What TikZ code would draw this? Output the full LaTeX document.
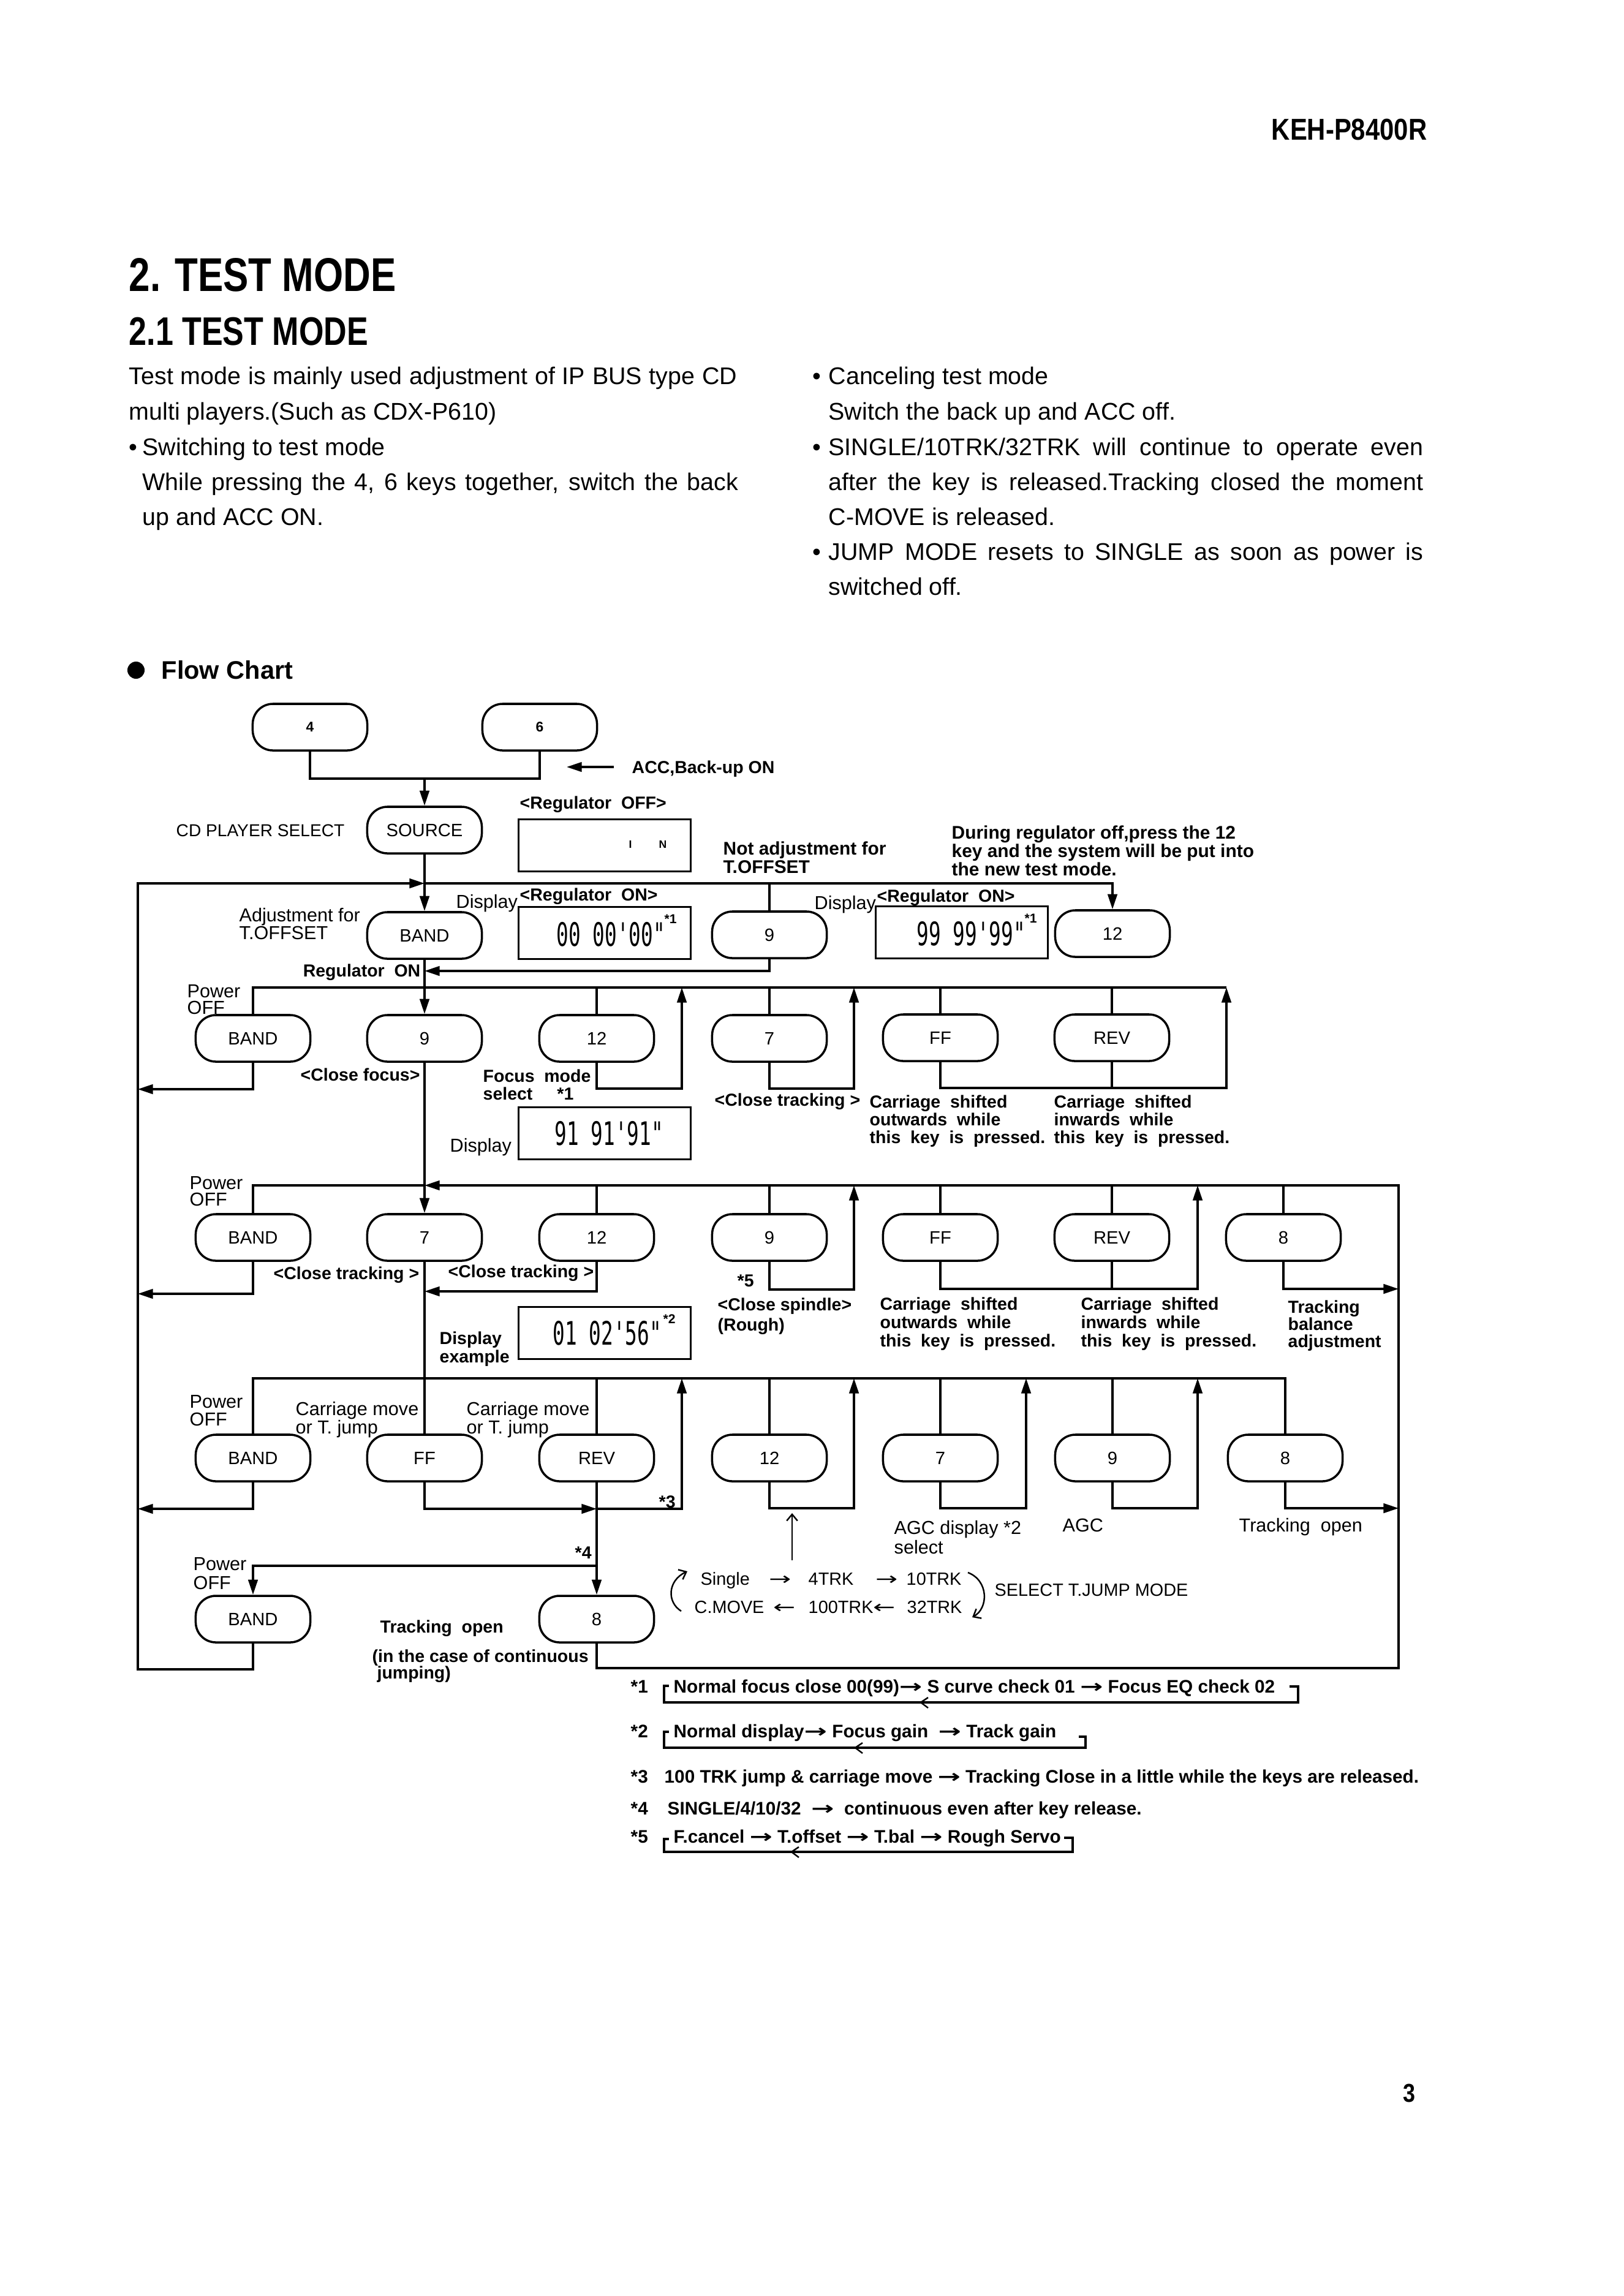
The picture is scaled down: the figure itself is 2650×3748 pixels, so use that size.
\documentclass[tikz,border=0pt]{standalone}
\usepackage{fontspec}
\setmainfont{Liberation Sans}
\newfontfamily\condf[FakeStretch=0.8]{Liberation Sans}
\newfontfamily\kehf[FakeStretch=0.85]{Liberation Sans}
\newfontfamily\lcdf[FakeStretch=0.62]{DejaVu Sans Mono}
\newfontfamily\arrf{DejaVu Sans}
\usetikzlibrary{arrows.meta}
\newcommand{\ra}{{\arrf\scalebox{1.5}[1]{→}}}
\newcommand{\la}{{\arrf\scalebox{1.5}[1]{←}}}
\begin{document}
\begin{tikzpicture}[x=0.01cm,y=-0.01cm,
  ln/.style={line width=0.95pt},
  arr/.style={line width=0.95pt,-{Triangle[length=7pt,width=4.4pt]}},
  thinarr/.style={line width=0.7pt,-{Straight Barb[length=3pt,width=5pt]}},
  btn/.style={draw,line width=1pt,rounded corners=3.3mm,minimum width=1.87cm,minimum height=0.76cm,inner sep=0pt,font=\fontsize{8.3}{9}\selectfont},
  disp/.style={draw,line width=1pt,minimum width=2.81cm,minimum height=0.85cm,inner sep=0pt},
  lab/.style={inner sep=0pt,anchor=base west,font=\fontsize{8.7}{9}\selectfont},
  jlab/.style={inner sep=0pt,anchor=base west,font=\fontsize{8.2}{9}\selectfont},
  blab/.style={inner sep=0pt,anchor=base west,font=\bfseries\fontsize{8.1}{9}\selectfont},
  mlab/.style={inner sep=0pt,anchor=north west,align=left},
  body/.style={inner sep=0pt,anchor=base west,font=\fontsize{11.2}{13}\selectfont},
  fn/.style={inner sep=0pt,anchor=base west,font=\bfseries\fontsize{8.45}{9}\selectfont},
  lcd/.style={inner sep=0pt,anchor=west,font=\lcdf\fontsize{15}{16}\selectfont},
  sup/.style={inner sep=0pt,anchor=west,font=\bfseries\fontsize{6}{7}\selectfont}
]
\useasboundingbox (0,0) rectangle (2650,3748);
\fill[white] (0,0) rectangle (2650,3748);

% ---------- header ----------
\node[inner sep=0pt,anchor=east,font=\kehf\bfseries\fontsize{14}{16}\selectfont] (model) at (2330,212) {KEH-P8400R};
\node[inner sep=0pt,anchor=base west,font=\condf\bfseries\fontsize{22}{24}\selectfont] (h1) at (210,475) {2. TEST MODE};
\node[inner sep=0pt,anchor=base west,font=\condf\bfseries\fontsize{18.5}{20}\selectfont] (h2) at (210,563) {2.1 TEST MODE};

\node[body] (t1) at (210,627) {\makebox[9.92cm][s]{Test mode is mainly used adjustment of IP BUS type CD}};
\node[body] (t2) at (210,685) {multi players.(Such as CDX-P610)};
\node[body] (t3b) at (210,743) {•};
\node[body] (t3) at (232,743) {Switching to test mode};
\node[body] (t4) at (232,800) {\makebox[9.72cm][s]{While pressing the 4, 6 keys together, switch the back}};
\node[body] (t5) at (232,857) {up and ACC ON.};

\node[body] (u1b) at (1326,627) {•};
\node[body] (u1) at (1352,627) {Canceling test mode};
\node[body] (u2) at (1352,685) {Switch the back up and ACC off.};
\node[body] (u3b) at (1326,743) {•};
\node[body] (u3) at (1352,743) {\makebox[9.7cm][s]{SINGLE/10TRK/32TRK will continue to operate even}};
\node[body] (u4) at (1352,800) {\makebox[9.7cm][s]{after the key is released.Tracking closed the moment}};
\node[body] (u5) at (1352,857) {C-MOVE is released.};
\node[body] (u6b) at (1326,914) {•};
\node[body] (u6) at (1352,914) {\makebox[9.7cm][s]{JUMP MODE resets to SINGLE as soon as power is}};
\node[body] (u7) at (1352,971) {switched off.};

\fill (222,1094) circle[radius=1.4mm];
\node[inner sep=0pt,anchor=west,font=\bfseries\fontsize{11.8}{13}\selectfont] (fc) at (263,1094) {Flow Chart};

% ---------- buttons ----------
\node[btn,font=\bfseries\fontsize{6.5}{7}\selectfont] (b4) at (506,1187) {4};
\node[btn,font=\bfseries\fontsize{6.5}{7}\selectfont] (b6) at (881,1187) {6};
\node[btn] (src) at (693,1355) {SOURCE};
\node[btn] (band1) at (693,1527) {BAND};
\node[btn] (nine1) at (1256,1526) {9};
\node[btn] (twelve1) at (1816,1524) {12};

\node[btn] (band2) at (413,1695) {BAND};
\node[btn] (nine2) at (693,1695) {9};
\node[btn] (twelve2) at (974,1695) {12};
\node[btn] (seven2) at (1256,1695) {7};
\node[btn] (ff2) at (1535,1694) {FF};
\node[btn] (rev2) at (1815,1694) {REV};

\node[btn] (band3) at (413,2020) {BAND};
\node[btn] (seven3) at (693,2020) {7};
\node[btn] (twelve3) at (974,2020) {12};
\node[btn] (nine3) at (1256,2020) {9};
\node[btn] (ff3) at (1535,2020) {FF};
\node[btn] (rev3) at (1815,2020) {REV};
\node[btn] (eight3) at (2095,2020) {8};

\node[btn] (band4) at (413,2380) {BAND};
\node[btn] (ff4) at (693,2380) {FF};
\node[btn] (rev4) at (974,2380) {REV};
\node[btn] (twelve4) at (1256,2380) {12};
\node[btn] (seven4) at (1535,2380) {7};
\node[btn] (nine4) at (1816,2380) {9};
\node[btn] (eight4) at (2098,2380) {8};

\node[btn] (band5) at (413,2643) {BAND};
\node[btn] (eight5) at (974,2643) {8};

% ---------- displays ----------
\node[disp] (disp0) at (987,1380) {};
\node[inner sep=0pt,font=\bfseries\fontsize{5}{6}\selectfont] (d0a) at (1029,1378) {I};
\node[inner sep=0pt,font=\bfseries\fontsize{5}{6}\selectfont] (d0b) at (1082,1378) {N};
\node[disp] (disp1) at (987,1523) {};
\node[lcd] (d1t) at (908,1525) {00 00'00"};
\node[sup] (d1s) at (1084,1500) {*1};
\node[disp] (disp2) at (1570,1522) {};
\node[lcd] (d2t) at (1496,1524) {99 99'99"};
\node[sup] (d2s) at (1672,1499) {*1};
\node[disp] (disp3) at (987,1850) {};
\node[lcd] (d3t) at (905,1850) {91 91'91"};
\node[disp] (disp4) at (987,2176) {};
\node[lcd] (d4t) at (902,2176) {01 02'56"};
\node[sup] (d4s) at (1082,2153) {*2};

% ---------- coordinates ----------
\coordinate (j0) at (693,1271);
\coordinate (mainJ) at (693,1442);
\coordinate (leftT) at (225,1442);
\coordinate (leftB) at (225,2725);
\coordinate (regJ) at (693,1585);
\coordinate (accA) at (1002,1252);
\coordinate (accB) at (925,1252);

% ---------- connectors top ----------
\draw[ln] (b4.south) |- (j0) -| (b6.south);
\draw[arr] (j0) -- (src.north);
\draw[arr] (accA) -- (accB);
\draw[arr] (src.south) -- (band1.north);
\draw[arr] (band5.south) |- (leftB) -- (leftT) -- (mainJ);
\draw[arr] (mainJ) -| (twelve1.north);
\draw[ln] (nine1.north) -- (nine1.north |- mainJ);
\draw[arr] (nine1.south) |- (regJ);
\draw[arr] (band1.south) -- (nine2.north);

% ---------- row 2 ----------
\coordinate (r2R) at (2002,1612);
\draw[ln] (band2.north) |- (r2R);
\foreach \n in {twelve2,seven2,ff2,rev2} \draw[ln] (\n.north) -- (\n.north |- r2R);
\coordinate (r2a) at (1113,1777); \coordinate (r2at) at (1113,1612);
\draw[arr] (twelve2.south) |- (r2a) -- (r2at);
\coordinate (r2b) at (1394,1777); \coordinate (r2bt) at (1394,1612);
\draw[arr] (seven2.south) |- (r2b) -- (r2bt);
\coordinate (r2c) at (2002,1776);
\draw[arr] (ff2.south) |- (r2c) -- (r2R);
\draw[ln] (rev2.south) -- (rev2.south |- r2c);
\coordinate (r2L) at (225,1778);
\draw[arr] (band2.south) |- (r2L);
\draw[arr] (nine2.south) -- (seven3.north);

% ---------- row 3 ----------
\coordinate (r3J) at (693,1935);
\coordinate (rt) at (2283,1935);
\coordinate (rb) at (2283,2723);
\draw[arr] (eight5.south) |- (rb) -- (rt) -- (r3J);
\draw[ln] (r3J) -| (band3.north);
\foreach \n in {twelve3,nine3,ff3,rev3,eight3} \draw[ln] (\n.north) -- (\n.north |- rt);
\coordinate (r3a) at (1394,2105); \coordinate (r3at) at (1394,1935);
\draw[arr] (nine3.south) |- (r3a) -- (r3at);
\coordinate (r3b) at (1955,2104); \coordinate (r3bt) at (1955,1935);
\draw[arr] (ff3.south) |- (r3b) -- (r3bt);
\draw[ln] (rev3.south) -- (rev3.south |- r3b);
\coordinate (r3c) at (2283,2104);
\draw[arr] (eight3.south) |- (r3c);
\coordinate (r3L) at (225,2112);
\draw[arr] (band3.south) |- (r3L);
\coordinate (r3d) at (693,2108);
\draw[arr] (twelve3.south) |- (r3d);
\draw[ln] (seven3.south) -- (ff4.north);

% ---------- row 4 ----------
\coordinate (r4R) at (2098,2250);
\draw[ln] (band4.north) |- (r4R) -- (eight4.north);
\foreach \n in {rev4,twelve4,seven4,nine4} \draw[ln] (\n.north) -- (\n.north |- r4R);
\coordinate (r4j) at (974,2463);
\draw[arr] (ff4.south) |- (r4j);
\coordinate (r4a) at (1113,2463); \coordinate (r4at) at (1113,2250);
\draw[arr] (r4j) -- (r4a) -- (r4at);
\coordinate (r4b) at (1394,2462); \coordinate (r4bt) at (1394,2250);
\draw[arr] (twelve4.south) |- (r4b) -- (r4bt);
\coordinate (r4c) at (1675,2462); \coordinate (r4ct) at (1675,2250);
\draw[arr] (seven4.south) |- (r4c) -- (r4ct);
\coordinate (r4d) at (1955,2462); \coordinate (r4dt) at (1955,2250);
\draw[arr] (nine4.south) |- (r4d) -- (r4dt);
\coordinate (r4e) at (2283,2462);
\draw[arr] (eight4.south) |- (r4e);
\coordinate (r4L) at (225,2463);
\draw[arr] (band4.south) |- (r4L);
\draw[arr] (rev4.south) -- (eight5.north);
\coordinate (j5) at (974,2556);
\draw[arr] (j5) -| (band5.north);

% ---------- labels ----------
\node[lab,font=\fontsize{8}{9}\selectfont] (cdps) at (287,1365) {CD PLAYER SELECT};
\node[blab] (acc) at (1031,1262) {ACC,Back-up ON};
\node[blab] (regoff) at (848,1320) {<Regulator\ \ OFF>};
\node[mlab,font=\bfseries\fontsize{8.5}{8.5}\selectfont] (notadj) at (1180,1373) {Not adjustment for\\T.OFFSET};
\node[mlab,font=\bfseries\fontsize{8.5}{8.5}\selectfont] (during) at (1553,1347) {During regulator off,press the 12\\key and the system will be put into\\the new test mode.};
\node[mlab,font=\fontsize{8.7}{8.2}\selectfont] (adjfor) at (390,1482) {Adjustment for\\T.OFFSET};
\node[lab] (dl1) at (744,1482) {Display};
\node[blab] (regon1) at (848,1470) {<Regulator\ \ ON>};
\node[lab] (dl2) at (1329,1484) {Display};
\node[blab] (regon2) at (1431,1472) {<Regulator\ \ ON>};
\node[blab,anchor=base east] (regon) at (687,1594) {Regulator\ \ ON};

\node[mlab,font=\fontsize{8.7}{7.6}\selectfont] (pw2) at (305,1607) {Power\\OFF};
\node[blab] (clfoc) at (490,1764) {<Close focus>};
\node[mlab,font=\bfseries\fontsize{8.1}{8.2}\selectfont] (focmode) at (788,1745) {Focus\ \ mode\\select\hspace{4mm}*1};
\node[lab] (dl3) at (734,1880) {Display};
\node[blab] (cltr2) at (1166,1805) {<Close tracking >};
\node[mlab,font=\bfseries\fontsize{8.1}{8.2}\selectfont] (cs1) at (1419,1787) {Carriage\ \ shifted\\outwards\ \ while\\this\ \ key\ \ is\ \ pressed.};
\node[mlab,font=\bfseries\fontsize{8.1}{8.2}\selectfont] (cs2) at (1720,1787) {Carriage\ \ shifted\\inwards\ \ while\\this\ \ key\ \ is\ \ pressed.};

\node[mlab,font=\fontsize{8.7}{7.7}\selectfont] (pw3) at (309,1920) {Power\\OFF};
\node[blab] (cltr3a) at (446,2088) {<Close tracking >};
\node[blab] (cltr3b) at (731,2085) {<Close tracking >};
\node[blab] (st5) at (1203,2100) {*5};
\node[mlab,font=\bfseries\fontsize{8.1}{9.4}\selectfont] (spin) at (1171,2118) {<Close spindle>\\(Rough)};
\node[mlab,font=\bfseries\fontsize{8.1}{6.6}\selectfont] (dex) at (717,2173) {Display\\example};
\node[mlab,font=\bfseries\fontsize{8.1}{8.5}\selectfont] (cs3) at (1436,2117) {Carriage\ \ shifted\\outwards\ \ while\\this\ \ key\ \ is\ \ pressed.};
\node[mlab,font=\bfseries\fontsize{8.1}{8.5}\selectfont] (cs4) at (1764,2117) {Carriage\ \ shifted\\inwards\ \ while\\this\ \ key\ \ is\ \ pressed.};
\node[mlab,font=\bfseries\fontsize{8.1}{8}\selectfont] (tba) at (2102,2122) {Tracking\\balance\\adjustment};

\node[mlab,font=\fontsize{8.7}{8.1}\selectfont] (pw4) at (309,2277) {Power\\OFF};
\node[mlab,font=\fontsize{8.7}{8.5}\selectfont] (cm1) at (482,2288) {Carriage move\\or T. jump};
\node[mlab,font=\fontsize{8.7}{8.5}\selectfont] (cm2) at (761,2288) {Carriage move\\or T. jump};
\node[blab] (st3) at (1075,2461) {*3};
\node[blab] (st4) at (938,2544) {*4};
\node[mlab,font=\fontsize{8.7}{8}\selectfont] (agcd) at (1459,2482) {AGC display *2\\select};
\node[lab] (agc) at (1734,2500) {AGC};
\node[lab] (trop) at (2022,2500) {Tracking\ \ open};

\node[mlab,font=\fontsize{8.7}{8.7}\selectfont] (pw5) at (315,2542) {Power\\OFF};
\node[blab] (trop2) at (620,2665) {Tracking\ \ open};
\node[mlab,font=\bfseries\fontsize{8.1}{7.7}\selectfont] (incase) at (607,2692) {(in the case of continuous\\\ jumping)};

% jump mode
\node[jlab] (jsingle) at (1143,2587) {Single};
\node[jlab] (ja1) at (1255,2587) {\ra};
\node[jlab] (j4) at (1319,2587) {4TRK};
\node[jlab] (ja2) at (1429,2587) {\ra};
\node[jlab] (j10) at (1479,2587) {10TRK};
\node[jlab] (jcm) at (1133,2633) {C.MOVE};
\node[jlab] (ja3) at (1262,2633) {\la};
\node[jlab] (j100) at (1319,2633) {100TRK};
\node[jlab] (ja4) at (1425,2633) {\la};
\node[jlab] (j32) at (1480,2633) {32TRK};
\node[jlab] (jsel) at (1623,2605) {SELECT T.JUMP MODE};
\coordinate (upA) at (1293,2547); \coordinate (upB) at (1293,2470);
\draw[thinarr] (upA) -- (upB);
\coordinate (cl1) at (1112,2630); \coordinate (cl2) at (1122,2565);
\draw[thinarr] (cl1) .. controls (1088,2615) and (1090,2580) .. (cl2);
\coordinate (cr1) at (1580,2567); \coordinate (cr2) at (1587,2640);
\draw[thinarr] (cr1) .. controls (1614,2580) and (1614,2625) .. (cr2);

% ---------- footnotes ----------
\node[fn] (f1n) at (1029,2763) {*1};
\node[fn] (f1) at (1099,2763) {Normal focus close 00(99)\ra\ S curve check 01 \ra\ Focus EQ check 02};
\draw[ln] (1092,2752) -- (1084,2752) -- (1084,2779) -- (2119,2779) -- (2119,2753) -- (2105,2753);
\draw[line width=0.7pt] (1515,2771) -- (1503,2779) -- (1515,2788);
\node[fn] (f2n) at (1029,2836) {*2};
\node[fn] (f2) at (1099,2836) {Normal display\ra\ Focus gain\ \ \ra\ Track gain};
\draw[ln] (1092,2827) -- (1084,2827) -- (1084,2853) -- (1772,2853) -- (1772,2835) -- (1761,2835);
\draw[line width=0.7pt] (1408,2845) -- (1396,2853) -- (1408,2862);
\node[fn] (f3n) at (1029,2910) {*3};
\node[fn] (f3) at (1084,2910) {100 TRK jump \& carriage move \ra\ Tracking Close in a little while the keys are released.};
\node[fn] (f4n) at (1029,2962) {*4};
\node[fn] (f4) at (1089,2962) {SINGLE/4/10/32\ \ \ra\ \ continuous even after key release.};
\node[fn] (f5n) at (1029,3008) {*5};
\node[fn] (f5) at (1099,3008) {F.cancel \ra\ T.offset \ra\ T.bal \ra\ Rough Servo};
\draw[ln] (1092,3002) -- (1084,3002) -- (1084,3023) -- (1751,3023) -- (1751,3000) -- (1737,3000);
\draw[line width=0.7pt] (1304,3015) -- (1292,3023) -- (1304,3032);

\node[inner sep=0pt,font=\kehf\bfseries\fontsize{12}{14}\selectfont] (pg) at (2300,3417) {3};
\end{tikzpicture}
\end{document}
